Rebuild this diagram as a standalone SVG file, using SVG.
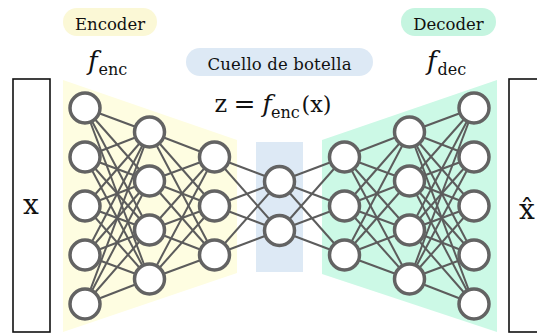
<svg xmlns="http://www.w3.org/2000/svg" width="537" height="333" viewBox="0 0 537 333">
  <style>
    .lbl { font-family: "DejaVu Serif", "Liberation Serif", serif; fill: #111; }
    .pill { font-size: 16.5px; text-anchor: middle; }
    .fn { font-style: italic; font-size: 26px; }
    .sub { font-size: 16px; }
    .big { font-size: 28px; text-anchor: middle; }
    .node circle { fill: #fff; stroke: #636363; stroke-width: 3.5; }
    #connectors line { stroke: #5c5c5c; stroke-width: 2; }
    .frame { fill: #fff; stroke: #111; stroke-width: 1.6; }
  </style>

  <!-- background regions -->
  <g id="regions">
    <polygon points="63,80 237,140 237,273 63,332" fill="#fefde1"/>
    <rect x="256" y="142" width="47" height="130" fill="#dde9f5"/>
    <polygon points="322,140 497,80 497,332 322,274" fill="#ccf9e6"/>
  </g>

  <!-- input / output frames -->
  <g id="input">
    <rect class="frame" x="13" y="79" width="37" height="253"/>
    <text class="lbl big" x="31" y="214">x</text>
  </g>
  <g id="output">
    <rect class="frame" x="509" y="79" width="40" height="253"/>
    <text class="lbl big" x="527" y="219">x̂</text>
  </g>

  <!-- labels -->
  <g id="encoder-label">
    <rect x="63" y="8" width="94" height="28" rx="14" fill="#fbf8d6"/>
    <text class="lbl pill" x="110" y="29.5">Encoder</text>
    <text class="lbl fn" x="88" y="70">f</text>
    <text class="lbl sub" x="98.5" y="75">enc</text>
  </g>
  <g id="decoder-label">
    <rect x="401" y="8" width="95" height="28" rx="14" fill="#c5f5e0"/>
    <text class="lbl pill" x="448.5" y="29.5">Decoder</text>
    <text class="lbl fn" x="427" y="70">f</text>
    <text class="lbl sub" x="437.5" y="75">dec</text>
  </g>
  <g id="bottleneck-label">
    <rect x="186" y="48" width="187" height="28" rx="14" fill="#dde9f5"/>
    <text class="lbl pill" x="279.5" y="69.5" textLength="144" lengthAdjust="spacing">Cuello de botella</text>
    <text class="lbl" font-size="24" x="214.5" y="111.5">z</text>
    <text class="lbl" font-size="24" x="233.5" y="111.5" textLength="22" lengthAdjust="spacingAndGlyphs">=</text>
    <text class="lbl" font-size="25" font-style="italic" x="262.5" y="111.5">f</text>
    <text class="lbl" font-size="16" x="271" y="117.5">enc</text>
    <text class="lbl" font-size="23" x="301.5" y="111.5" textLength="30" lengthAdjust="spacingAndGlyphs">(x)</text>
  </g>

  <!-- connections between consecutive layers -->
  <g id="connectors">
    <!-- layer 1 -> layer 2 -->
    <line x1="85" y1="108" x2="149.5" y2="132"/><line x1="85" y1="108" x2="149.5" y2="181"/><line x1="85" y1="108" x2="149.5" y2="230"/><line x1="85" y1="108" x2="149.5" y2="279"/>
    <line x1="85" y1="157" x2="149.5" y2="132"/><line x1="85" y1="157" x2="149.5" y2="181"/><line x1="85" y1="157" x2="149.5" y2="230"/><line x1="85" y1="157" x2="149.5" y2="279"/>
    <line x1="85" y1="206" x2="149.5" y2="132"/><line x1="85" y1="206" x2="149.5" y2="181"/><line x1="85" y1="206" x2="149.5" y2="230"/><line x1="85" y1="206" x2="149.5" y2="279"/>
    <line x1="85" y1="255" x2="149.5" y2="132"/><line x1="85" y1="255" x2="149.5" y2="181"/><line x1="85" y1="255" x2="149.5" y2="230"/><line x1="85" y1="255" x2="149.5" y2="279"/>
    <line x1="85" y1="304" x2="149.5" y2="132"/><line x1="85" y1="304" x2="149.5" y2="181"/><line x1="85" y1="304" x2="149.5" y2="230"/><line x1="85" y1="304" x2="149.5" y2="279"/>
    <!-- layer 2 -> layer 3 -->
    <line x1="149.5" y1="132" x2="214.5" y2="157"/><line x1="149.5" y1="132" x2="214.5" y2="206"/><line x1="149.5" y1="132" x2="214.5" y2="255"/>
    <line x1="149.5" y1="181" x2="214.5" y2="157"/><line x1="149.5" y1="181" x2="214.5" y2="206"/><line x1="149.5" y1="181" x2="214.5" y2="255"/>
    <line x1="149.5" y1="230" x2="214.5" y2="157"/><line x1="149.5" y1="230" x2="214.5" y2="206"/><line x1="149.5" y1="230" x2="214.5" y2="255"/>
    <line x1="149.5" y1="279" x2="214.5" y2="157"/><line x1="149.5" y1="279" x2="214.5" y2="206"/><line x1="149.5" y1="279" x2="214.5" y2="255"/>
    <!-- layer 3 -> bottleneck -->
    <line x1="214.5" y1="157" x2="279.5" y2="181.5"/><line x1="214.5" y1="157" x2="279.5" y2="230.5"/>
    <line x1="214.5" y1="206" x2="279.5" y2="181.5"/><line x1="214.5" y1="206" x2="279.5" y2="230.5"/>
    <line x1="214.5" y1="255" x2="279.5" y2="181.5"/><line x1="214.5" y1="255" x2="279.5" y2="230.5"/>
    <!-- bottleneck -> layer 4 -->
    <line x1="279.5" y1="181.5" x2="344.5" y2="157"/><line x1="279.5" y1="181.5" x2="344.5" y2="206"/><line x1="279.5" y1="181.5" x2="344.5" y2="255"/>
    <line x1="279.5" y1="230.5" x2="344.5" y2="157"/><line x1="279.5" y1="230.5" x2="344.5" y2="206"/><line x1="279.5" y1="230.5" x2="344.5" y2="255"/>
    <!-- layer 4 -> layer 5 -->
    <line x1="344.5" y1="157" x2="409.5" y2="132"/><line x1="344.5" y1="157" x2="409.5" y2="181"/><line x1="344.5" y1="157" x2="409.5" y2="230"/><line x1="344.5" y1="157" x2="409.5" y2="279"/>
    <line x1="344.5" y1="206" x2="409.5" y2="132"/><line x1="344.5" y1="206" x2="409.5" y2="181"/><line x1="344.5" y1="206" x2="409.5" y2="230"/><line x1="344.5" y1="206" x2="409.5" y2="279"/>
    <line x1="344.5" y1="255" x2="409.5" y2="132"/><line x1="344.5" y1="255" x2="409.5" y2="181"/><line x1="344.5" y1="255" x2="409.5" y2="230"/><line x1="344.5" y1="255" x2="409.5" y2="279"/>
    <!-- layer 5 -> layer 6 -->
    <line x1="409.5" y1="132" x2="474" y2="108"/><line x1="409.5" y1="132" x2="474" y2="157"/><line x1="409.5" y1="132" x2="474" y2="206"/><line x1="409.5" y1="132" x2="474" y2="255"/><line x1="409.5" y1="132" x2="474" y2="304"/>
    <line x1="409.5" y1="181" x2="474" y2="108"/><line x1="409.5" y1="181" x2="474" y2="157"/><line x1="409.5" y1="181" x2="474" y2="206"/><line x1="409.5" y1="181" x2="474" y2="255"/><line x1="409.5" y1="181" x2="474" y2="304"/>
    <line x1="409.5" y1="230" x2="474" y2="108"/><line x1="409.5" y1="230" x2="474" y2="157"/><line x1="409.5" y1="230" x2="474" y2="206"/><line x1="409.5" y1="230" x2="474" y2="255"/><line x1="409.5" y1="230" x2="474" y2="304"/>
    <line x1="409.5" y1="279" x2="474" y2="108"/><line x1="409.5" y1="279" x2="474" y2="157"/><line x1="409.5" y1="279" x2="474" y2="206"/><line x1="409.5" y1="279" x2="474" y2="255"/><line x1="409.5" y1="279" x2="474" y2="304"/>
  </g>

  <!-- neurons -->
  <g id="layer1" class="node">
    <circle cx="85" cy="108" r="15"/><circle cx="85" cy="157" r="15"/><circle cx="85" cy="206" r="15"/><circle cx="85" cy="255" r="15"/><circle cx="85" cy="304" r="15"/>
  </g>
  <g id="layer2" class="node">
    <circle cx="149.5" cy="132" r="15"/><circle cx="149.5" cy="181" r="15"/><circle cx="149.5" cy="230" r="15"/><circle cx="149.5" cy="279" r="15"/>
  </g>
  <g id="layer3" class="node">
    <circle cx="214.5" cy="157" r="15"/><circle cx="214.5" cy="206" r="15"/><circle cx="214.5" cy="255" r="15"/>
  </g>
  <g id="bottleneck" class="node">
    <circle cx="279.5" cy="181.5" r="15"/><circle cx="279.5" cy="230.5" r="15"/>
  </g>
  <g id="layer4" class="node">
    <circle cx="344.5" cy="157" r="15"/><circle cx="344.5" cy="206" r="15"/><circle cx="344.5" cy="255" r="15"/>
  </g>
  <g id="layer5" class="node">
    <circle cx="409.5" cy="132" r="15"/><circle cx="409.5" cy="181" r="15"/><circle cx="409.5" cy="230" r="15"/><circle cx="409.5" cy="279" r="15"/>
  </g>
  <g id="layer6" class="node">
    <circle cx="474" cy="108" r="15"/><circle cx="474" cy="157" r="15"/><circle cx="474" cy="206" r="15"/><circle cx="474" cy="255" r="15"/><circle cx="474" cy="304" r="15"/>
  </g>
</svg>
